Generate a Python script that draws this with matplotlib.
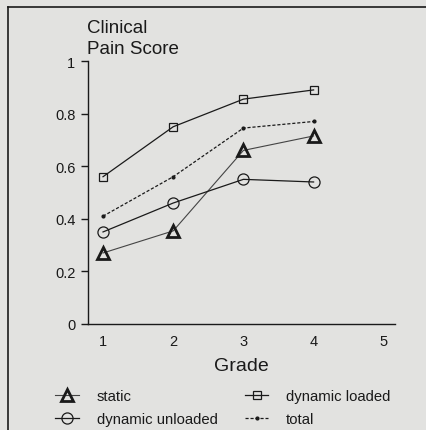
import matplotlib
matplotlib.use("Agg")
import matplotlib.pyplot as plt
from matplotlib.lines import Line2D

plt.rcParams['font.family'] = ['Liberation Sans', 'DejaVu Sans']

grades = [1, 2, 3, 4]
static = [0.27, 0.354, 0.66, 0.715]
dyn_unloaded = [0.35, 0.46, 0.55, 0.54]
dyn_loaded = [0.56, 0.75, 0.855, 0.89]
total = [0.41, 0.56, 0.745, 0.77]
yticks = [0, 0.2, 0.4, 0.6, 0.8, 1]
ytick_labels = ["0", "0.2", "0.4", "0.6", "0.8", "1"]
xticks = [1, 2, 3, 4, 5]

bg = "#e2e2e0"
ink = "#1a1a1a"

fig = plt.figure(figsize=(4.26, 4.31), dpi=100, facecolor=bg)
ax = fig.add_axes([88/426, (431-325)/431, (395-88)/426, (325-62)/431])
ax.set_facecolor(bg)

ax.plot(grades, static, color="#444444", lw=0.8, marker="^", ms=9,
        mfc="none", mec=ink, mew=2.0, label="static")
ax.plot(grades, dyn_unloaded, color=ink, lw=0.9, marker="o", ms=8,
        mfc="none", mec=ink, mew=0.9, label="dynamic unloaded")
ax.plot(grades, dyn_loaded, color=ink, lw=0.9, marker="s", ms=6,
        mfc="none", mec=ink, mew=0.9, label="dynamic loaded")
ax.plot(grades, total, color=ink, lw=0.9, ls=(0, (2.5, 1.5)), marker="o", ms=2,
        mfc=ink, mec=ink, label="total")

ax.set_xlim(0.786, 5.16)
ax.set_ylim(0, 1)
for s in ["top", "right"]:
    ax.spines[s].set_visible(False)
for s in ["left", "bottom"]:
    ax.spines[s].set_color(ink)
    ax.spines[s].set_linewidth(1.0)

ax.set_yticks(yticks)
ax.set_yticklabels(ytick_labels)
ax.set_xticks(xticks)
ax.tick_params(axis="y", direction="out", length=5, width=1, color=ink,
               labelsize=10.5, pad=4, labelcolor=ink)
ax.tick_params(axis="x", length=0, labelsize=10.5, pad=7, labelcolor=ink)

ax.set_xlabel("Grade", fontsize=14, color=ink, labelpad=7)
fig.text(87/426, 1 - 58/431, "Clinical\nPain Score", fontsize=13.5,
         color=ink, ha="left", va="bottom", linespacing=1.3)

# frame lines
fig.add_artist(Line2D([8/426, 1.0], [1 - 8/431, 1 - 8/431],
                      transform=fig.transFigure, color=ink, lw=1.2))
fig.add_artist(Line2D([8/426, 8/426], [0, 1 - 8/431],
                      transform=fig.transFigure, color=ink, lw=1.2))

h, l = ax.get_legend_handles_labels()
leg = fig.legend(h, l, ncol=2, loc="upper left",
                 bbox_to_anchor=(42/426, 1 - 377/431),
                 frameon=False, fontsize=10.7, numpoints=1,
                 handlelength=1.6, handletextpad=1.2, columnspacing=1.8,
                 labelspacing=0.6)
for t in leg.get_texts():
    t.set_color(ink)

fig.savefig("out.png", dpi=100, facecolor=bg)
